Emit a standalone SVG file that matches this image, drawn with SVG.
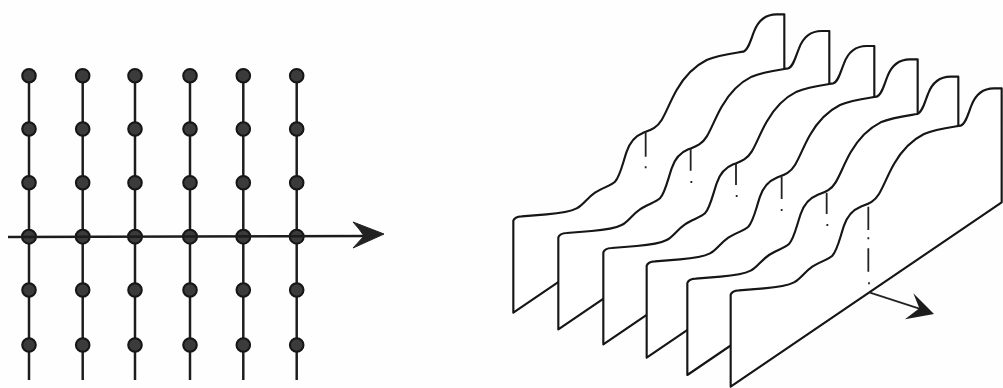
<svg xmlns="http://www.w3.org/2000/svg" width="1003" height="388" viewBox="0 0 1003 388">
<style>
.v{stroke:#1c1c1c;stroke-width:2.5;fill:none}
.d{fill:#3a3a3a;stroke:#141414;stroke-width:2}
.s{fill:#fff;stroke:#141414;stroke-width:6.4;stroke-linejoin:round}
.h{stroke:#222;stroke-width:5.4;fill:none}
</style>
<defs>
<filter id="scan" x="-5%" y="-5%" width="110%" height="110%"><feGaussianBlur stdDeviation="0.45"/></filter>
<path id="sheet" d="M100 938V662Q104 650 125 649L200 643C235 640 270 635 290 625C310 615 320 595 345 578C365 565 395 555 405 545C420 530 428 490 440 455C450 425 465 408 490 398C510 390 530 385 545 360C560 335 570 305 590 270C610 235 640 200 680 180C715 165 760 160 790 155C805 150 812 120 822 95C835 60 860 43 890 43H913V385Z"/>
<g id="col">
<line class="v" x1="0" y1="75.7" x2="0" y2="380"/>
<circle class="d" cx="0" cy="75.7" r="6.8"/>
<circle class="d" cx="0" cy="129" r="6.8"/>
<circle class="d" cx="0" cy="182.7" r="6.8"/>
<circle class="d" cx="0" cy="236.7" r="7"/>
<circle class="d" cx="0" cy="290" r="6.8"/>
<circle class="d" cx="0" cy="345" r="6.8"/>
</g>
</defs>
<rect width="1003" height="388" fill="#fefefe"/>
<g filter="url(#scan)">
<g id="lattice">
<use href="#col" x="29"/>
<use href="#col" x="82.7"/>
<use href="#col" x="135"/>
<use href="#col" x="190"/>
<use href="#col" x="243.3"/>
<use href="#col" x="296.7"/>
</g>
<g id="connectors">
<line class="v" x1="8" y1="237" x2="372" y2="236"/>
<path d="M353 222L384 234L353 248L364 236L359 229Z" fill="#222" stroke="#222" stroke-width="1"/>
</g>
<g id="sheets" transform="translate(480 0) scale(.33333)">
<g id="sheet1"><use href="#sheet" class="s"/><path class="h" d="M497 397V470M497 499V505"/></g>
<g id="sheet2"><use href="#sheet" class="s" x="135" y="50"/><path class="h" d="M632 447V512M634 543V549"/></g>
<g id="sheet3"><use href="#sheet" class="s" x="270" y="95"/><path class="h" d="M768 490V555M770 585V591"/></g>
<g id="sheet4"><use href="#sheet" class="s" x="400" y="135"/><path class="h" d="M905 530V597M905 627V633"/></g>
<g id="sheet5"><use href="#sheet" class="s" x="522" y="187"/><path class="h" d="M1040 578V642M1042 672V678"/></g>
<g id="sheet6"><use href="#sheet" class="s" x="652" y="222"/><path class="h" d="M1165 620V690M1165 712V718M1165 745V815M1167 847V853"/></g>
<g id="normal-arrow">
<line class="h" x1="1170" y1="878" x2="1325" y2="928"/>
<path d="M1362 942L1300 880L1318 925L1275 958Z" fill="#1c1c1c"/>
</g>
</g>
</g>
</svg>
